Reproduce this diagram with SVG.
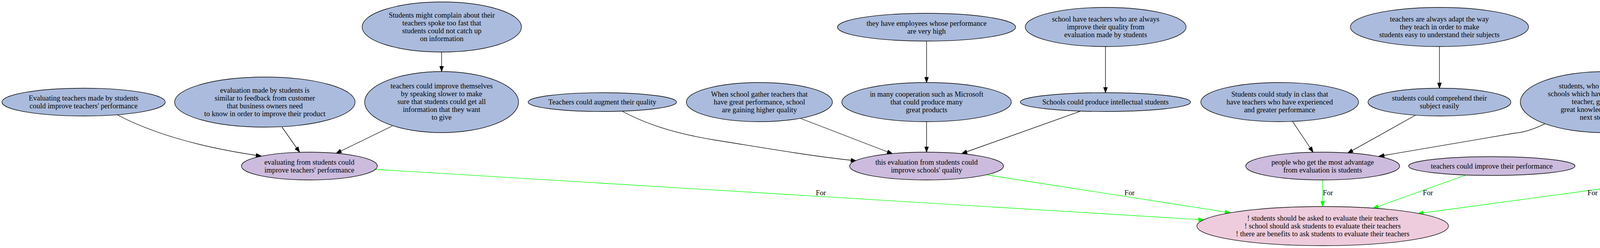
<svg xmlns="http://www.w3.org/2000/svg" width="5102" height="634" viewBox="0 0 5102 634">
<style>
.n ellipse{stroke:#000;stroke-width:1.33}
.b ellipse{fill:#aabbdd}
.p ellipse{fill:#ccbbdd}
.k ellipse{fill:#eeccdd}
text{font-family:"Liberation Serif","Times New Roman",serif;font-size:18.67px;fill:#000;text-anchor:middle}
.e path{fill:none;stroke-width:1.33}
.blk path{stroke:#000;marker-end:url(#ab)}
.grn path{stroke:#00ff00;marker-end:url(#ag)}
</style>
<defs>
<marker id="ab" viewBox="0 0 14 10" markerWidth="14" markerHeight="10" refX="13.33" refY="4.67" orient="auto" markerUnits="userSpaceOnUse" overflow="visible">
<path d="M0,0 L13.33,4.67 L0,9.33 Z" fill="#000" stroke="#000" stroke-width="1.33"/>
</marker>
<marker id="ag" viewBox="0 0 14 10" markerWidth="14" markerHeight="10" refX="13.33" refY="4.67" orient="auto" markerUnits="userSpaceOnUse" overflow="visible">
<path d="M0,0 L13.33,4.67 L0,9.33 Z" fill="#00ff00" stroke="#00ff00" stroke-width="1.33"/>
</marker>
</defs>
<rect width="5102" height="634" fill="#fff"/>
<g id="connectors" class="e">
<g class="blk">
<path d="M301,294 C370,330 480,372 669,399"/>
<path d="M722,325 L767,389"/>
<path d="M1004.5,322 L860.5,392"/>
<path d="M1130.5,133 L1130.5,183"/>
<path d="M1592,284 C1650,315 1720,340 1830,358 C1950,377 2080,400 2192,411"/>
<path d="M2050,303 L2284.6,393"/>
<path d="M2372,311 L2372,389"/>
<path d="M2372,105 L2372,211"/>
<path d="M2830,119 L2830,237"/>
<path d="M2765,284.7 L2462,392.5"/>
<path d="M3685,119 L3685,225.5"/>
<path d="M3309,310.6 L3361.6,389"/>
<path d="M3622.8,295 L3450,391.4"/>
<path d="M3955,316.7 C3925,331 3900,339 3877,340.5 L3530,399.5"/>
<path d="M4532,285 L4532,400.5"/>
<path d="M4842,294 L4589,401.5"/>
</g>
<g class="grn">
<path d="M961,433 L3082,562"/>
<path d="M2525.7,447 L3150,544"/>
<path d="M3386,460 L3386,528"/>
<path d="M3753,447.3 L3515,532.5"/>
<path d="M4401.6,442 L3630,546"/>
</g>
<text x="2101.5" y="499">For</text>
<text x="2891.5" y="499">For</text>
<text x="3399.5" y="499">For</text>
<text x="3655.5" y="499">For</text>
<text x="4077" y="499">For</text>
</g>
<g id="n1" class="n b"><ellipse cx="214" cy="261" rx="209" ry="35.5"/><text x="214" y="257">Evaluating teachers made by students</text><text x="214" y="277">could improve teachers' performance</text></g>
<g id="n2" class="n b"><ellipse cx="678" cy="261" rx="231" ry="64"/><text x="678" y="237">evaluation made by students is</text><text x="678" y="257">similar to feedback from customer</text><text x="678" y="277">that business owners need</text><text x="678" y="297">to know in order to improve their product</text></g>
<g id="n3" class="n b"><ellipse cx="1131" cy="69" rx="204" ry="64"/><text x="1131" y="45">Students might complain about their</text><text x="1131" y="65">teachers spoke too fast that</text><text x="1131" y="85">students could not catch up</text><text x="1131" y="105">on information</text></g>
<g id="n4" class="n b"><ellipse cx="1130.5" cy="261" rx="197" ry="78"/><text x="1130.5" y="226">teachers could improve themselves</text><text x="1130.5" y="246">by speaking slower to make</text><text x="1130.5" y="266">sure that students could get all</text><text x="1130.5" y="286">information that they want</text><text x="1130.5" y="306">to give</text></g>
<g id="n5" class="n b"><ellipse cx="1542" cy="261" rx="190" ry="24"/><text x="1542" y="267">Teachers could augment their quality</text></g>
<g id="n6" class="n b"><ellipse cx="1944" cy="261" rx="187" ry="50"/><text x="1944" y="247">When school gather teachers that</text><text x="1944" y="267">have great performance, school</text><text x="1944" y="287">are gaining higher quality</text></g>
<g id="n7" class="n b"><ellipse cx="2372" cy="69.5" rx="228" ry="35.5"/><text x="2372" y="65.5">they have employees whose performance</text><text x="2372" y="85.5">are very high</text></g>
<g id="n8" class="n b"><ellipse cx="2372" cy="261" rx="217" ry="50"/><text x="2372" y="247">in many cooperation such as Microsoft</text><text x="2372" y="267">that could produce many</text><text x="2372" y="287">great products</text></g>
<g id="n9" class="n b"><ellipse cx="2830.5" cy="69" rx="206" ry="50"/><text x="2830.5" y="55">school have teachers who are always</text><text x="2830.5" y="75">improve their quality from</text><text x="2830.5" y="95">evaluation made by students</text></g>
<g id="n10" class="n b"><ellipse cx="2830" cy="261" rx="218" ry="24"/><text x="2830" y="267">Schools could produce intellectual students</text></g>
<g id="n11" class="n b"><ellipse cx="3685" cy="69" rx="228" ry="50"/><text x="3685" y="55">teachers are always adapt the way</text><text x="3685" y="75">they teach in order to make</text><text x="3685" y="95">students easy to understand their subjects</text></g>
<g id="n12" class="n b"><ellipse cx="3276" cy="261" rx="202" ry="50"/><text x="3276" y="247">Students could study in class that</text><text x="3276" y="267">have teachers who have experienced</text><text x="3276" y="287">and greater performance</text></g>
<g id="n13" class="n b"><ellipse cx="3685" cy="261" rx="183" ry="35.5"/><text x="3685" y="257">students could comprehend their</text><text x="3685" y="277">subject easily</text></g>
<g id="n14" class="n b"><ellipse cx="4106" cy="261" rx="214" ry="78"/><text x="4106" y="226">students, who study from great</text><text x="4106" y="246">schools which have great performance</text><text x="4106" y="266">teacher, graduate with</text><text x="4106" y="286">great knowledge to survive in</text><text x="4106" y="306">next steps of life</text></g>
<g id="n15" class="n b"><ellipse cx="4532" cy="261" rx="189" ry="24"/><text x="4532" y="267">they have high performance teachers</text></g>
<g id="n16" class="n b"><ellipse cx="4920" cy="261" rx="175" ry="35.5"/><text x="4920" y="257">students are easy to understand</text><text x="4920" y="277">their subjects</text></g>
<g id="p1" class="n p"><ellipse cx="792" cy="424.5" rx="174" ry="35.5"/><text x="792" y="420.5">evaluating from students could</text><text x="792" y="440.5">improve teachers' performance</text></g>
<g id="p2" class="n p"><ellipse cx="2372" cy="424.5" rx="197" ry="35.5"/><text x="2372" y="420.5">this evaluation from students could</text><text x="2372" y="440.5">improve schools' quality</text></g>
<g id="p3" class="n p"><ellipse cx="3386" cy="424.5" rx="197" ry="35.5"/><text x="3386" y="420.5">people who get the most advantage</text><text x="3386" y="440.5">from evaluation is students</text></g>
<g id="p4" class="n p"><ellipse cx="3819" cy="424.5" rx="213" ry="24"/><text x="3819" y="430.5">teachers could improve their performance</text></g>
<g id="p5" class="n p"><ellipse cx="4532" cy="424.5" rx="192" ry="24"/><text x="4532" y="430.5">schools are also improve their quality</text></g>
<g id="main" class="n k"><ellipse cx="3386" cy="578" rx="322" ry="50"/><text x="3386" y="564">! students should be asked to evaluate their teachers</text><text x="3386" y="584">! school should ask students to evaluate their teachers</text><text x="3386" y="604">! there are benefits to ask students to evaluate their teachers</text></g>
</svg>
